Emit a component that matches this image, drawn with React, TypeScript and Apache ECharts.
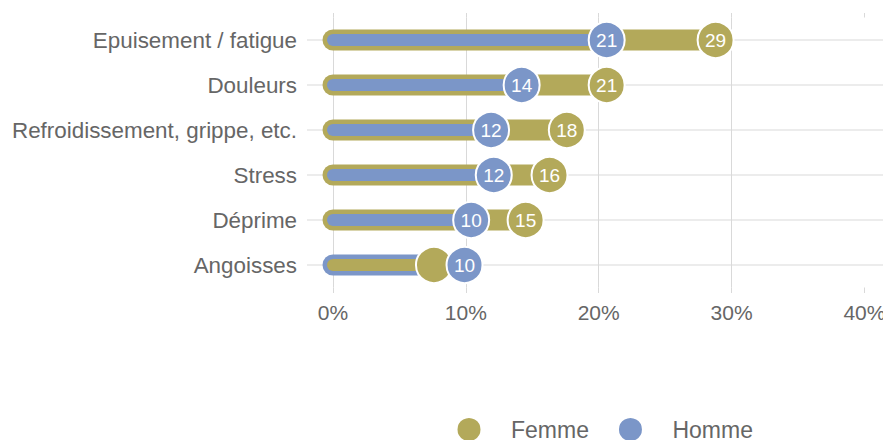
import React, { useEffect, useRef } from "react";
import * as echarts from "echarts";

const categories = [
  "Epuisement / fatigue",
  "Douleurs",
  "Refroidissement, grippe, etc.",
  "Stress",
  "Déprime",
  "Angoisses",
];
const femme = [28.8, 20.6, 17.6, 16.3, 14.5, 7.6];
const homme = [20.6, 14.2, 11.9, 12.1, 10.4, 9.9];
const xTicks = [0, 10, 20, 30, 40];

const OLIVE = "#b3a95a";
const BLUE = "#7b96c8";
const GRID = "#d9d9d9";
const TEXT = "#666666";
const FONT = "'Liberation Sans', Arial, Helvetica, sans-serif";

export default function App() {
  const ref = useRef<HTMLDivElement>(null);
  useEffect(() => {
    if (!ref.current) return;
    const chart = echarts.init(ref.current, null, { renderer: "svg" });
    const xMax = 41.4;
    const barData = categories.map((_, i) => [i, femme[i], homme[i]]);
    const overlapHidden = (i: number) => Math.abs(femme[i] - homme[i]) < 2.8;
    chart.setOption({
      animation: false,
      textStyle: { fontFamily: FONT },
      grid: {
        left: 333,
        right: 0,
        top: 17.5,
        bottom: 152.5,
        containLabel: false,
        outerBoundsMode: "none",
      },
      xAxis: [
        {
          type: "value",
          min: 0,
          max: xMax,
          interval: 10,
          axisLine: { show: false },
          axisTick: { show: true, length: 5.5, customValues: xTicks, lineStyle: { color: GRID } },
          splitLine: { show: true, showMaxLine: false, lineStyle: { color: GRID } },
          axisLabel: {
            show: true,
            customValues: xTicks,
            margin: 14,
            color: TEXT,
            fontSize: 21,
            fontFamily: FONT,
            formatter: (v: number) => v + "%",
          },
        },
        {
          type: "value",
          position: "top",
          min: 0,
          max: xMax,
          interval: 10,
          axisLine: { show: false },
          axisTick: { show: true, length: 4.5, customValues: xTicks, lineStyle: { color: GRID } },
          splitLine: { show: false },
          axisLabel: { show: false },
        },
      ],
      yAxis: {
        type: "category",
        data: categories,
        inverse: true,
        axisLine: { show: false },
        axisTick: { show: false },
        splitLine: { show: false },
        axisLabel: { margin: 36, color: TEXT, fontSize: 22.4, fontFamily: FONT },
      },
      legend: {
        left: 450.5,
        top: 411,
        itemWidth: 25,
        itemHeight: 25,
        itemGap: 28,
        icon: "circle",
        textStyle: { color: TEXT, fontSize: 23, fontFamily: FONT, padding: [0, 0, 0, 24.5] },
        data: ["Femme", "Homme"],
      },
      series: [
        {
          type: "custom",
          name: "bars",
          data: barData,
          encode: { x: [1, 2], y: 0 },
          silent: true,
          renderItem: (params: any, api: any) => {
            const cat = api.value(0);
            const f = api.value(1);
            const h = api.value(2);
            const cs = params.coordSys;
            const p0 = api.coord([0, cat]);
            const pF = api.coord([f, cat]);
            const pH = api.coord([h, cat]);
            const femmeBig = f >= h;
            const bigEnd = femmeBig ? pF : pH;
            const smallEnd = femmeBig ? pH : pF;
            const y = p0[1];
            return {
              type: "group",
              children: [
                {
                  type: "line",
                  shape: { x1: cs.x - 26, y1: y, x2: cs.x + cs.width, y2: y },
                  style: { stroke: GRID, lineWidth: 1 },
                },
                {
                  type: "line",
                  shape: { x1: p0[0], y1: y, x2: bigEnd[0], y2: y },
                  style: {
                    stroke: femmeBig ? OLIVE : BLUE,
                    lineWidth: 21,
                    lineCap: "round",
                  },
                },
                {
                  type: "line",
                  shape: { x1: p0[0], y1: y, x2: smallEnd[0], y2: y },
                  style: {
                    stroke: femmeBig ? BLUE : OLIVE,
                    lineWidth: 12,
                    lineCap: "round",
                  },
                },
              ],
            };
          },
          z: 2,
        },
        {
          type: "scatter",
          name: "Femme",
          data: femme.map((v, i) => ({
            value: [v, i],
            label: { show: !overlapHidden(i) },
          })),
          symbol: "circle",
          symbolSize: 36,
          itemStyle: { color: OLIVE, borderColor: "#ffffff", borderWidth: 2, opacity: 1 },
          label: {
            show: true,
            position: "inside",
            color: "#ffffff",
            fontSize: 19,
            fontFamily: FONT,
            formatter: (p: any) => String(Math.round(p.value[0])),
          },
          z: 3,
        },
        {
          type: "scatter",
          name: "Homme",
          data: homme.map((v, i) => [v, i]),
          symbol: "circle",
          symbolSize: 36,
          itemStyle: { color: BLUE, borderColor: "#ffffff", borderWidth: 2, opacity: 1 },
          label: {
            show: true,
            position: "inside",
            color: "#ffffff",
            fontSize: 19,
            fontFamily: FONT,
            formatter: (p: any) => String(Math.round(p.value[0])),
          },
          z: 4,
        },
      ],
    });
    return () => chart.dispose();
  }, []);
  return <div ref={ref} style={{ width: 883, height: 440, position: "absolute", left: 0, top: 0 }} />;
}
